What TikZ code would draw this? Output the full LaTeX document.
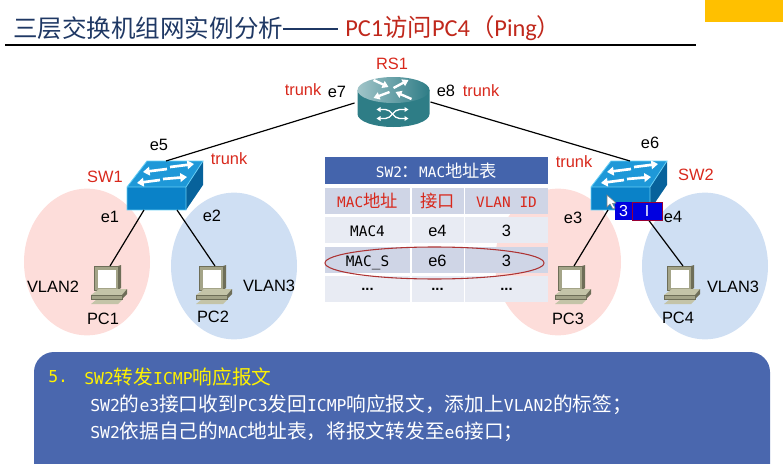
\documentclass[tikz,border=0pt]{standalone}
\usepackage{fontspec}
\setmainfont{Liberation Sans}
\setmonofont{DejaVu Sans Mono}
\newfontfamily\titlefont{Carlito}
\newfontfamily\cjktitle{Noto Sans CJK SC}
\newfontfamily\cjk[Scale=1.2]{Noto Sans CJK SC}
\newcommand{\cn}[1]{{\cjk #1}}
\usetikzlibrary{
    arrows.meta,
    shapes.geometric
}
\definecolor{titleblue}{HTML}{1F3864}
\definecolor{titlered}{HTML}{C0281C}
\definecolor{labelred}{HTML}{D8281C}
\definecolor{gold}{HTML}{FFC000}
\definecolor{panelblue}{HTML}{4A67AE}
\definecolor{headblue}{HTML}{4464AC}
\definecolor{rowdark}{HTML}{CFD5E6}
\definecolor{rowlight}{HTML}{E8EBF3}
\definecolor{vlanpink}{HTML}{FDDDDA}
\definecolor{vlanblue}{HTML}{CFDFF3}
\definecolor{swtop}{HTML}{1E98D8}
\definecolor{swfront}{HTML}{0A82C8}
\definecolor{swside}{HTML}{07629B}
\definecolor{rsbody}{HTML}{2E7D86}
\definecolor{pclight}{HTML}{C4C4A8}
\definecolor{pcmid}{HTML}{A4A488}
\definecolor{pcdark}{HTML}{6E6E58}
\definecolor{tagblue}{HTML}{0000E0}
\tikzset{
  link/.style={black,line width=0.9pt},
  label/.style={font=\fontsize{12.3pt}{14pt}\selectfont,inner sep=0pt},
  redlabel/.style={label,text=labelred},
  pinkarea/.style={ellipse,fill=vlanpink,minimum width=94.5pt,minimum height=110pt,inner sep=0pt},
  bluearea/.style={ellipse,fill=vlanblue,minimum width=94.5pt,minimum height=110pt,inner sep=0pt},
  cell/.style={inner sep=0pt,minimum height=20pt,text height=10pt,text depth=0pt,font=\fontsize{10.8pt}{13pt}\selectfont\ttfamily},
  numcell/.style={cell,font=\fontsize{12.3pt}{14pt}\selectfont},
  dotcell/.style={cell,fill=rowlight,text height=4pt,text depth=1.5pt,font=\fontsize{11pt}{13pt}\selectfont\bfseries},
  headcell/.style={cell,text=labelred,fill=rowdark,minimum height=19.5pt},
  swarrow/.style={white,line width=2pt,-{Triangle[width=6.5pt,length=5pt]}},
  rsarrow/.style={white,line width=1.8pt,-{Triangle[width=5.5pt,length=4.5pt]}},
  rscross/.style={white,line width=1pt,{Triangle[width=3.5pt,length=3pt]}-{Triangle[width=3.5pt,length=3pt]}},
  paneltext/.style={anchor=west,inner sep=0pt,font=\fontsize{12.3pt}{14pt}\selectfont\ttfamily},
  tagcell/.style={fill=tagblue,line width=0.5pt,minimum height=13.5pt,inner sep=0pt,text=white,font=\fontsize{12pt}{14pt}\selectfont},
  switchicon/.pic={
    \fill[swtop] (0,0) -- (59,0) -- (76,-26) -- (20,-26) -- cycle;
    \fill[swside] (59,0) -- (76,-26) -- (76,-2) -- (59,23) -- cycle;
    \fill[swfront] (0,0) rectangle (59,23);
    \draw[cyan!60!white,line width=0.6pt] (0,23) -- (0,0) -- (59,0) -- (59,23) -- cycle (0,0) -- (20,-26) -- (76,-26) -- (59,0);
    \draw[swarrow] (40,-18) -- (16,-15);
    \draw[swarrow] (43,-20) -- (67,-23);
    \draw[swarrow] (33,-7) -- (10,-4);
    \draw[swarrow] (36,-8) -- (60,-10);
    \coordinate (-top) at (39,-26);
    \coordinate (-left) at (17,23);
    \coordinate (-right) at (50,23);
  },
  pcicon/.pic={
    \fill[pcdark] (24,0) -- (27,-1) -- (27,22) -- (24,24) -- cycle;
    \fill[pcmid] (0,0) rectangle (24,24);
    \draw[pcdark,line width=0.4pt] (0,0) rectangle (24,24);
    \fill[white] (4,4) rectangle (22,22);
    \fill[pclight] (-3,29) -- (28,29) -- (33,23) -- (5,23) -- cycle;
    \fill[pcmid] (-3,29) rectangle (28,33);
    \fill[pcdark] (28,29) -- (33,23) -- (33,28) -- (28,33) -- cycle;
    \fill[pclight] (-3,38) -- (24,38) -- (28,34) -- (2,34) -- cycle;
    \draw[pcdark,line width=0.4pt] (-3,29) rectangle (28,33);
    \coordinate (-top) at (16,0);
  },
  routericon/.pic={
    \fill[rsbody] (-36,0) -- (-36,24) arc[start angle=180,end angle=360,x radius=36,y radius=-13] -- (36,0) -- cycle;
    \shade[left color=rsbody!45!white,right color=rsbody] (0,0) ellipse (36 and 13);
    \draw[rsarrow] (-20,-10) -- (-5,-3);
    \draw[rsarrow] (0,-2) -- (15,-10);
    \draw[rsarrow] (-4,2) -- (-20,8);
    \draw[rsarrow] (18,9) -- (2,2);
    \draw[rscross] (-17,19.5) -- (-8,19.5) .. controls (-2,19.5) and (0,28.5) .. (6,28.5) -- (15,28.5);
    \draw[rscross] (-17,28.5) -- (-8,28.5) .. controls (-2,28.5) and (0,19.5) .. (6,19.5) -- (15,19.5);
    \coordinate (-left) at (-39,13);
    \coordinate (-right) at (37,12);
  }
}
\begin{document}
\begin{tikzpicture}[x=0.75pt,y=-0.75pt]
    \useasboundingbox (0,0) rectangle (783,464);

    % title
    \fill[gold] (705,0) rectangle (783,22);
    \node[anchor=west,inner sep=0pt,text=titleblue] (title) at (13,28) {\fontsize{18.4pt}{20pt}\selectfont\cjktitle 三层交换机组网实例分析};
    \draw[titleblue,line width=0.9pt] (title.east) ++(0,1) -- (338,29);
    \node[anchor=west,inner sep=0pt,text=titlered] (subtitle) at (345,28) {\fontsize{18.3pt}{20pt}\selectfont\titlefont PC1{\cjktitle\fontsize{18.3pt}{20pt}\selectfont 访问}PC4{\cjktitle\fontsize{18.3pt}{20pt}\selectfont （}Ping{\cjktitle\fontsize{18.3pt}{20pt}\selectfont ）}};
    \draw[black,line width=1.1pt] (5,45) -- (696,45);

    % vlan areas
    \node[pinkarea] (A1) at (87,262) {};
    \node[bluearea] (A2) at (234,266) {};
    \node[pinkarea] (A3) at (558,262) {};
    \node[bluearea] (A4) at (705,266) {};

    % devices
    \pic (RS1) at (393.5,90) {routericon};
    \pic (SW1) at (127,187) {switchicon};
    \pic (SW2) at (591,187) {switchicon};
    \pic (PC1) at (94,266) {pcicon};
    \pic (PC2) at (199,266) {pcicon};
    \pic (PC3) at (558,266) {pcicon};
    \pic (PC4) at (667,266) {pcicon};

    % links
    \draw[link] (RS1-left) -- (SW1-top);
    \draw[link] (RS1-right) -- (SW2-top);
    \draw[link] (SW1-left) -- (PC1-top);
    \draw[link] (SW1-right) -- (PC2-top);
    \draw[link] (SW2-left) -- (PC3-top);
    \draw[link] (SW2-right) -- (PC4-top);

    % tag
    \node[tagcell,minimum width=12.75pt] (tag3) at (623.5,211) {3};
    \node[tagcell,draw=purple!80!black,minimum width=22.5pt] (tagI) at (647,211) {I};
    \fill[white,draw=gray,line width=0.4pt] (607,195) -- (607,207) -- (610,204) -- (613,209) -- (615,208) -- (612.5,203.5) -- (616,203) -- cycle;

    % labels
    \node[redlabel] (RS1t) at (392,64) {RS1};
    \node[redlabel] (T1) at (303,90) {trunk};
    \node[label] (e7) at (337,92) {e7};
    \node[label] (e8) at (446,91) {e8};
    \node[redlabel] (T2) at (481,91) {trunk};
    \node[label] (e5) at (159,145) {e5};
    \node[redlabel] (T3) at (229,159) {trunk};
    \node[redlabel] (SW1t) at (105,177) {SW1};
    \node[label] (e1) at (110,217) {e1};
    \node[label] (e2) at (212,216) {e2};
    \node[label] (V1) at (53,287) {VLAN2};
    \node[label] (V2) at (269,286) {VLAN3};
    \node[label] (PC1t) at (103,319) {PC1};
    \node[label] (PC2t) at (213,317) {PC2};
    \node[label] (e6) at (650,143) {e6};
    \node[redlabel] (T4) at (574,162) {trunk};
    \node[redlabel] (SW2t) at (696,175) {SW2};
    \node[label] (e3) at (573,218) {e3};
    \node[label] (e4) at (673,217) {e4};
    \node[label] (PC3t) at (568,319) {PC3};
    \node[label] (PC4t) at (678,318) {PC4};
    \node[label] (V4) at (733,287) {VLAN3};

    % mac table
    \node[cell,fill=headblue,text=white,minimum width=167.25pt] (Th) at (436.5,170.5) {SW2\cn{：}MAC\cn{地址表}};
    \node[headcell,minimum width=63.75pt] (H1) at (367.5,201) {MAC\cn{地址}};
    \node[headcell,minimum width=39pt] (H2) at (437.5,201) {\cn{接口}};
    \node[headcell,minimum width=62.25pt] (H3) at (506.5,201) {VLAN ID};
    \node[cell,fill=rowlight,minimum width=63.75pt] (R1a) at (367.5,230) {MAC4};
    \node[numcell,fill=rowlight,minimum width=39pt] (R1b) at (437.5,230) {e4};
    \node[numcell,fill=rowlight,minimum width=62.25pt] (R1c) at (506.5,230) {3};
    \node[cell,fill=rowdark,minimum width=63.75pt] (R2a) at (367.5,260) {MAC\_S};
    \node[numcell,fill=rowdark,minimum width=39pt] (R2b) at (437.5,260) {e6};
    \node[numcell,fill=rowdark,minimum width=62.25pt] (R2c) at (506.5,260) {3};
    \node[dotcell,minimum width=63.75pt] (R3a) at (367.5,289) {...};
    \node[dotcell,minimum width=39pt] (R3b) at (437.5,289) {...};
    \node[dotcell,minimum width=62.25pt] (R3c) at (506.5,289) {...};
    \draw[red!60!black!80,line width=0.8pt] (434.5,263) ellipse (109.5 and 16);

    % text panel
    \fill[panelblue,rounded corners=15pt] (34,500) -- (34,352) -- (770,352) -- (770,500) -- cycle;
    \node[paneltext,text=yellow] (P0) at (48,377) {5.};
    \node[paneltext,text=yellow] (P1) at (84,377) {SW2\cn{转发}ICMP\cn{响应报文}};
    \node[paneltext,text=white] (P2) at (90,405) {SW2\cn{的}e3\cn{接口收到}PC3\cn{发回}ICMP\cn{响应报文，添加上}VLAN2\cn{的标签；}};
    \node[paneltext,text=white] (P3) at (90,432) {SW2\cn{依据自己的}MAC\cn{地址表，将报文转发至}e6\cn{接口；}};
\end{tikzpicture}
\end{document}
